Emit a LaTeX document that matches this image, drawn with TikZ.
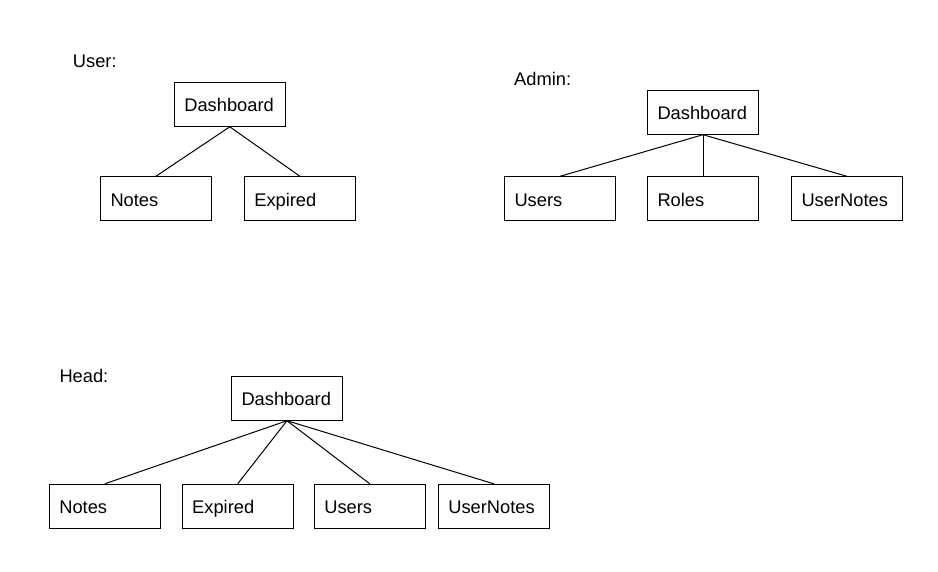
\documentclass[tikz,border=0pt]{standalone}
\usepackage{fontspec}
\setmainfont{Liberation Sans}
\begin{document}
\begin{tikzpicture}[x=1pt,y=-1pt,
  box/.style={draw=black,line width=1pt,rectangle,minimum height=44pt,
    text width=91pt,text height=15pt,text depth=0pt,inner xsep=10pt,inner ysep=0pt,align=left,
    font=\fontsize{18.3}{21}\selectfont},
  grp/.style={anchor=base west,inner sep=0pt,font=\fontsize{18.3}{21}\selectfont},
  link/.style={draw=black,line width=1pt}]
\useasboundingbox[fill=white] (0,0) rectangle (938,571);

% User
\node[grp] (uLabel) at (72.7,67.7) {User:};
\node[box] (uDash) at (229.8,104.3) {Dashboard};
\node[box] (uNotes) at (156,198.7) {Notes};
\node[box] (uExp) at (299.8,198.7) {Expired};
\draw[link] (uDash.south) -- (uNotes.north);
\draw[link] (uDash.south) -- (uExp.north);

% Admin
\node[grp] (aLabel) at (514,85.3) {Admin:};
\node[box] (aDash) at (703,112.2) {Dashboard};
\node[box] (aUsers) at (560,198.8) {Users};
\node[box] (aRoles) at (703,198.8) {Roles};
\node[box] (aUN) at (847,198.8) {UserNotes};
\draw[link] (aDash.south) -- (aUsers.north);
\draw[link] (aDash.south) -- (aRoles.north);
\draw[link] (aDash.south) -- (aUN.north);

% Head
\node[grp] (hLabel) at (59.3,382) {Head:};
\node[box] (hDash) at (287,398.2) {Dashboard};
\node[box] (hNotes) at (104.8,506.3) {Notes};
\node[box] (hExp) at (237.7,506.3) {Expired};
\node[box] (hUsers) at (369.8,506.3) {Users};
\node[box] (hUN) at (493.8,506.3) {UserNotes};
\draw[link] (hDash.south) -- (hNotes.north);
\draw[link] (hDash.south) -- (hExp.north);
\draw[link] (hDash.south) -- (hUsers.north);
\draw[link] (hDash.south) -- (hUN.north);
\end{tikzpicture}
\end{document}
